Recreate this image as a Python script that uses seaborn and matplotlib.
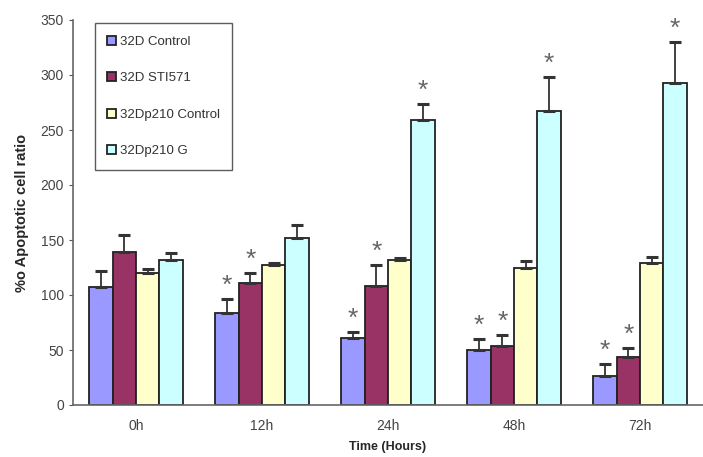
import matplotlib
matplotlib.use("Agg")
import matplotlib.pyplot as plt
import seaborn as sns
import numpy as np
import pandas as pd

# data
times = ["0h", "12h", "24h", "48h", "72h"]
groups = ["32D Control", "32D STI571", "32Dp210 Control", "32Dp210 G"]
means = {
    "32D Control":     [107, 84, 61, 50, 26],
    "32D STI571":      [139, 111, 108, 54, 44],
    "32Dp210 Control": [120, 127, 132, 125, 129],
    "32Dp210 G":       [132, 152, 259, 267, 293],
}
errs = {
    "32D Control":     [15, 12, 5, 10, 11],
    "32D STI571":      [16, 9, 19, 10, 8],
    "32Dp210 Control": [4, 2, 2, 6, 6],
    "32Dp210 G":       [6, 12, 15, 31, 37],
}
# which bars carry a significance star
stars = {
    "32D Control":     [0, 1, 1, 1, 1],
    "32D STI571":      [0, 1, 1, 1, 1],
    "32Dp210 Control": [0, 0, 0, 0, 0],
    "32Dp210 G":       [0, 0, 1, 1, 1],
}
colors = ["#9999FF", "#993366", "#FFFFCC", "#CCFFFF"]

rows = []
for g in groups:
    for t, v in zip(times, means[g]):
        rows.append({"Time": t, "Group": g, "Value": v})
df = pd.DataFrame(rows)

sns.set_style("white")
plt.rcParams['font.family'] = ['Liberation Sans', 'DejaVu Sans']

fig = plt.figure(figsize=(7.03, 4.57), dpi=100)
ax = fig.add_axes([73 / 703, 52 / 457, 630 / 703, 385 / 457])

sns.barplot(data=df, x="Time", y="Value", hue="Group", order=times,
            hue_order=groups, palette=colors, saturation=1, errorbar=None,
            width=0.74, edgecolor="#222222", linewidth=1.3, ax=ax, legend=True)

# error bars (upper only) and stars
for g, cont in zip(groups, ax.containers):
    for i, bar in enumerate(cont):
        x = bar.get_x() + bar.get_width() / 2
        top = bar.get_height()
        e = errs[g][i]
        ax.errorbar(x, top, yerr=[[0], [e]], fmt="none", ecolor="#333333",
                    elinewidth=1.3, capsize=4, capthick=2.2, zorder=3)
        if stars[g][i]:
            ax.text(x, top + e + 1, "*", ha="center", va="bottom",
                    fontsize=19, color="#666666")

ax.set_xlim(-0.5, 4.5)
ax.set_ylim(0, 350)
ax.set_yticks(np.arange(0, 351, 50))
ax.set_xticks(np.arange(-0.5, 4.6, 1), minor=True)
ax.tick_params(axis="x", which="major", length=0, pad=10, labelsize=10, labelcolor="#444444")
ax.tick_params(axis="x", which="minor", length=3, color="#555555", direction="out")
ax.tick_params(axis="y", length=3, color="#555555", labelsize=10, labelcolor="#444444", left=True)

for s in ["top", "right"]:
    ax.spines[s].set_visible(False)
for s in ["left", "bottom"]:
    ax.spines[s].set_color("#666666")
    ax.spines[s].set_linewidth(1.2)

ax.set_xlabel("Time (Hours)", fontweight="bold", fontsize=9, labelpad=6)
ax.set_ylabel("%o Apoptotic cell ratio", fontweight="bold", fontsize=10.5, labelpad=8)

leg = ax.legend(loc="upper left", bbox_to_anchor=(0.03, 0.998), frameon=True,
                fancybox=False, edgecolor="#333333", fontsize=9.5,
                handlelength=0.65, handleheight=0.65, handletextpad=0.3,
                labelspacing=1.85, borderpad=0.95, borderaxespad=0.2)
leg.get_frame().set_linewidth(1.0)
for t in leg.get_texts():
    t.set_color("#333333")

fig.savefig("out.png", dpi=100)
